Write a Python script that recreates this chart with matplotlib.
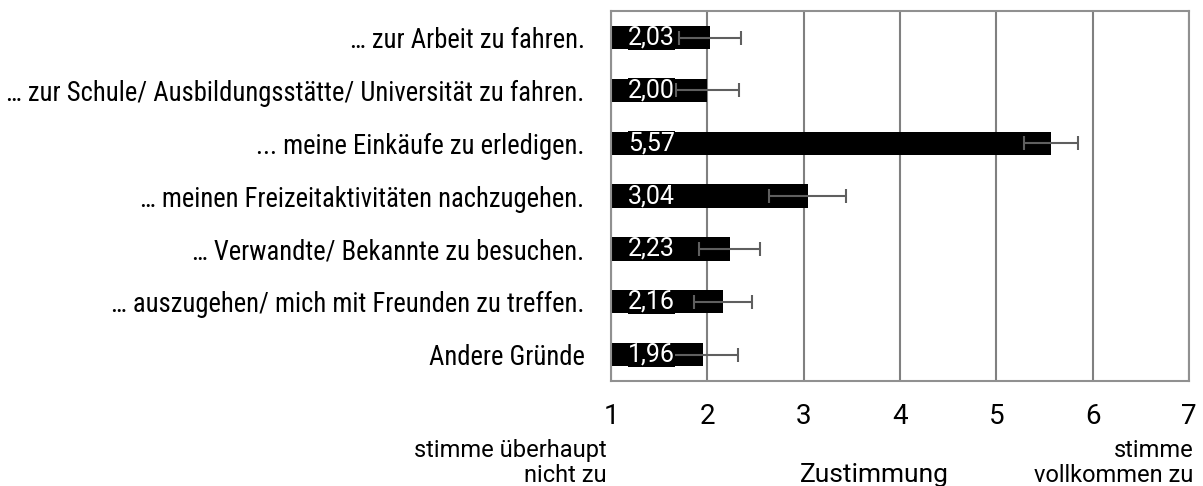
import matplotlib.pyplot as plt
from matplotlib import font_manager

categories = [
    '… zur Arbeit zu fahren.',
    '… zur Schule/ Ausbildungsstätte/ Universität zu fahren.',
    '... meine Einkäufe zu erledigen.',
    '… meinen Freizeitaktivitäten nachzugehen.',
    '… Verwandte/ Bekannte zu besuchen.',
    '… auszugehen/ mich mit Freunden zu treffen.',
    'Andere Gründe',
]
means = [2.03, 2.00, 5.57, 3.04, 2.23, 2.16, 1.96]
errors = [0.32, 0.33, 0.28, 0.40, 0.32, 0.30, 0.36]
xticks = [1, 2, 3, 4, 5, 6, 7]

try:
    font_manager.findfont('Roboto Condensed', fallback_to_default=False)
    COND = 'Roboto Condensed'
except Exception:
    COND = 'Roboto'

plt.rcParams['font.family'] = ['Roboto', 'DejaVu Sans']

fig = plt.figure(figsize=(12.03, 4.86), dpi=100)
ax = fig.add_axes([0.5079, 0.216, 0.4805, 0.761])

y = list(range(len(categories)))
ax.barh(y, [m - 1 for m in means], left=1, height=0.44, color='black', zorder=2)
ax.errorbar(means, y, xerr=errors, fmt='none', ecolor='#5f5f5f', elinewidth=1.5,
            capsize=5, capthick=1.5, zorder=3)

# value labels sit on a black box so they hide the lower whisker
for yi, m in zip(y, means):
    ax.text(1.18, yi, f'{m:.2f}'.replace('.', ','), color='white', va='center', ha='left',
            fontsize=18, zorder=4,
            bbox=dict(facecolor='black', edgecolor='none', pad=0))

ax.set_xlim(1, 7)
ax.set_ylim(len(categories) - 0.5, -0.5)
ax.set_xticks(xticks)
ax.set_xticklabels([str(t) for t in xticks], fontsize=20)
ax.set_yticks(y)
ax.set_yticklabels(categories, fontsize=19.2, family=[COND, 'DejaVu Sans'])
ax.tick_params(axis='x', length=0, pad=16)
ax.tick_params(axis='y', length=0, pad=19)
ax.grid(axis='x', color='#808080', linewidth=1.5, zorder=0)
for side in ['left', 'right', 'top', 'bottom']:
    ax.spines[side].set_color('#909090')
    ax.spines[side].set_linewidth(1.5)

fig.text(0.5045, 0.0597, 'stimme überhaupt', ha='right', va='baseline', fontsize=17)
fig.text(0.5045, 0.0082, 'nicht zu', ha='right', va='baseline', fontsize=17)
fig.text(0.992, 0.0597, 'stimme', ha='right', va='baseline', fontsize=17)
fig.text(0.992, 0.0082, 'vollkommen zu', ha='right', va='baseline', fontsize=17)
fig.text(0.727, 0.0082, 'Zustimmung', ha='center', va='baseline', fontsize=19)

fig.savefig('out.png', dpi=100)
